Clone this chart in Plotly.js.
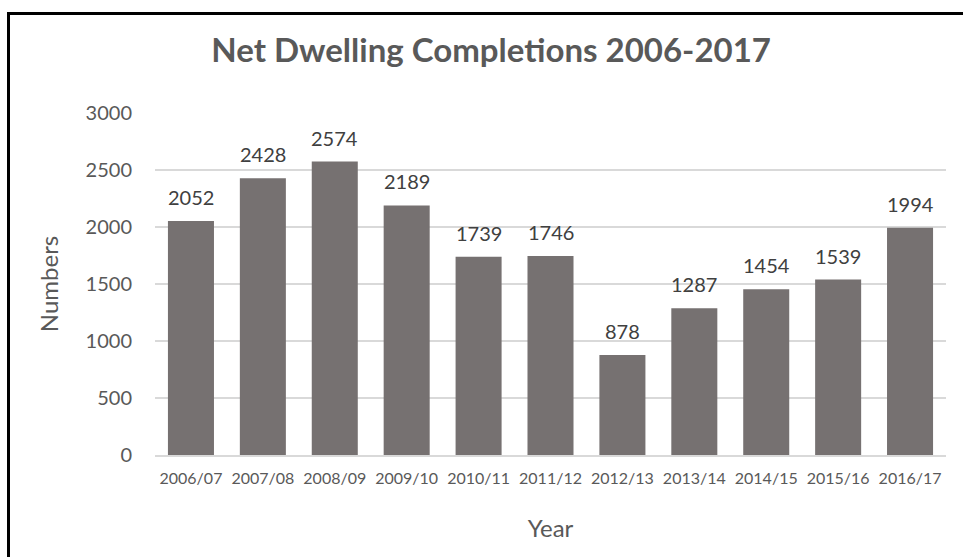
<!DOCTYPE html>
<html><head><meta charset="utf-8">
<script src="https://cdn.plot.ly/plotly-3.0.1.min.js"></script>
<style>
html,body{margin:0;padding:0;background:#fff;width:963px;height:557px;overflow:hidden;}
#chart{position:absolute;left:0;top:0;width:963px;height:557px;}
#frame{position:absolute;left:7px;top:12px;width:1000px;height:600px;border:3.5px solid #000;box-sizing:border-box;pointer-events:none;}
</style></head>
<body>
<div id="chart"></div>
<div id="frame"></div>
<script>
const years = ["2006/07","2007/08","2008/09","2009/10","2010/11","2011/12","2012/13","2013/14","2014/15","2015/16","2016/17"];
const completions = [2052,2428,2574,2189,1739,1746,878,1287,1454,1539,1994];
const yTicks = [0,500,1000,1500,2000,2500,3000];

const FONT = "Lato, 'Open Sans', sans-serif";
const labels = years.map((yr, i) => ({
  x: yr, y: completions[i], xref: 'x', yref: 'y',
  text: String(completions[i]), showarrow: false,
  yanchor: 'bottom', yshift: 10,
  font: {family: FONT, size: 20, color: '#404040'}
}));

Plotly.newPlot('chart', [{
  type: 'bar',
  x: years,
  y: completions,
  marker: {color: '#767171'},
  hoverinfo: 'none'
}], {
  width: 963, height: 557,
  margin: {l: 155, r: 17, t: 113, b: 102},
  paper_bgcolor: '#fff', plot_bgcolor: '#fff',
  bargap: 0.36,
  showlegend: false,
  annotations: labels,
  title: {text: '<b>Net Dwelling Completions 2006-2017</b>', x: 0.51, xanchor: 'center', y: 0.91, yanchor: 'middle',
          font: {family: FONT, size: 33, color: '#595959'}},
  xaxis: {
    type: 'category',
    tickfont: {family: FONT, size: 16, color: '#595959'},
    showline: true, linecolor: '#d9d9d9', linewidth: 1.5,
    ticks: '', showgrid: false,
    ticklabelstandoff: 8,
    title: {text: 'Year', font: {family: FONT, size: 24, color: '#595959'}, standoff: 34}
  },
  yaxis: {
    range: [0, 3000],
    tickvals: yTicks,
    ticktext: yTicks.map(String),
    tickfont: {family: FONT, size: 20, color: '#595959'},
    showgrid: true, gridcolor: '#d9d9d9', gridwidth: 1.5,
    zeroline: false, showline: false, ticks: '',
    ticklabelstandoff: 22,
    title: {text: 'Numbers', font: {family: FONT, size: 24, color: '#595959'}, standoff: 20}
  }
}, {displayModeBar: false, staticPlot: true});
</script>
</body></html>
